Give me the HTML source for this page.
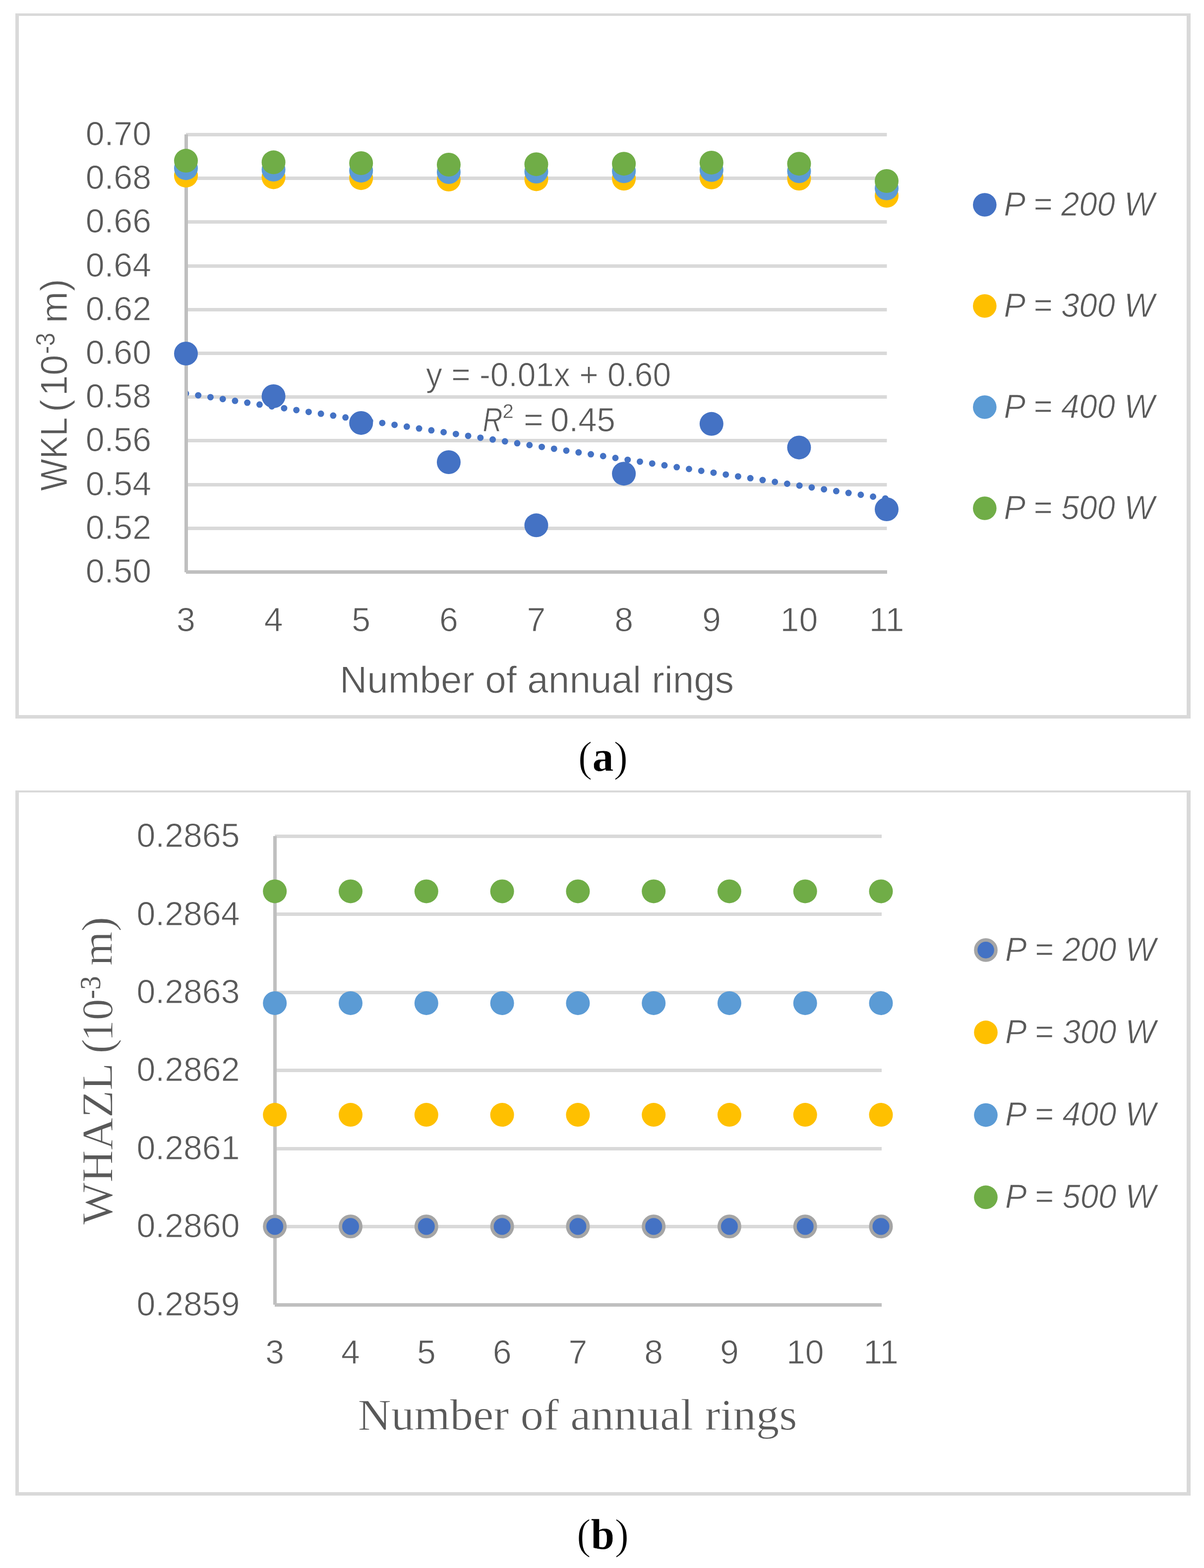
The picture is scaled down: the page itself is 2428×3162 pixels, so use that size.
<!DOCTYPE html>
<html><head><meta charset="utf-8"><title>Figure</title>
<style>
html,body{margin:0;padding:0;background:#fff;}
body{width:2428px;height:3162px;overflow:hidden;}
svg{display:block;}
.t{font-family:'Liberation Sans', Arial, sans-serif;font-size:68px;fill:#595959;stroke:#fff;stroke-width:1px;}
</style></head>
<body>
<svg width="2428" height="3162" viewBox="0 0 2428 3162">
<rect x="0" y="0" width="2428" height="3162" fill="#fff"/>
<rect x="31" y="27" width="2370" height="5" fill="#d9d9d9"/>
<rect x="31" y="1442" width="2370" height="7" fill="#d9d9d9"/>
<rect x="31" y="27" width="7" height="1422" fill="#d9d9d9"/>
<rect x="2393" y="27" width="8" height="1422" fill="#d9d9d9"/>
<rect x="31" y="1594" width="2370" height="4" fill="#d9d9d9"/>
<rect x="31" y="3009" width="2370" height="7" fill="#d9d9d9"/>
<rect x="31" y="1594" width="7" height="1422" fill="#d9d9d9"/>
<rect x="2393" y="1594" width="8" height="1422" fill="#d9d9d9"/>
<rect x="375" y="268" width="1413.5" height="7" fill="#d9d9d9"/>
<rect x="375" y="356" width="1413.5" height="7" fill="#d9d9d9"/>
<rect x="375" y="444" width="1413.5" height="7" fill="#d9d9d9"/>
<rect x="375" y="533" width="1413.5" height="7" fill="#d9d9d9"/>
<rect x="375" y="621" width="1413.5" height="7" fill="#d9d9d9"/>
<rect x="375" y="709" width="1413.5" height="7" fill="#d9d9d9"/>
<rect x="375" y="797" width="1413.5" height="7" fill="#d9d9d9"/>
<rect x="375" y="885" width="1413.5" height="7" fill="#d9d9d9"/>
<rect x="375" y="974" width="1413.5" height="7" fill="#d9d9d9"/>
<rect x="375" y="1062" width="1413.5" height="7" fill="#d9d9d9"/>
<rect x="372" y="271" width="7" height="883" fill="#bfbfbf"/>
<rect x="375" y="1150" width="1414" height="7" fill="#bfbfbf"/>
<text x="305" y="292.9" text-anchor="end" class="t">0.70</text>
<text x="305" y="381.1" text-anchor="end" class="t">0.68</text>
<text x="305" y="469.3" text-anchor="end" class="t">0.66</text>
<text x="305" y="557.5" text-anchor="end" class="t">0.64</text>
<text x="305" y="645.7" text-anchor="end" class="t">0.62</text>
<text x="305" y="733.9" text-anchor="end" class="t">0.60</text>
<text x="305" y="822.1" text-anchor="end" class="t">0.58</text>
<text x="305" y="910.3" text-anchor="end" class="t">0.56</text>
<text x="305" y="998.5" text-anchor="end" class="t">0.54</text>
<text x="305" y="1086.7" text-anchor="end" class="t">0.52</text>
<text x="305" y="1174.9" text-anchor="end" class="t">0.50</text>
<text x="375.0" y="1273.4" text-anchor="middle" class="t">3</text>
<text x="551.6" y="1273.4" text-anchor="middle" class="t">4</text>
<text x="728.2" y="1273.4" text-anchor="middle" class="t">5</text>
<text x="904.9" y="1273.4" text-anchor="middle" class="t">6</text>
<text x="1081.5" y="1273.4" text-anchor="middle" class="t">7</text>
<text x="1258.1" y="1273.4" text-anchor="middle" class="t">8</text>
<text x="1434.8" y="1273.4" text-anchor="middle" class="t">9</text>
<text x="1611.4" y="1273.4" text-anchor="middle" class="t">10</text>
<text x="1788.0" y="1273.4" text-anchor="middle" class="t">11</text>
<defs><clipPath id="pa"><rect x="378.8" y="200" width="1500" height="1000"/></clipPath></defs>
<line x1="375" y1="793.5" x2="1788" y2="1005.6" stroke="#4472c4" stroke-width="13" stroke-linecap="round" stroke-dasharray="0 25.02" clip-path="url(#pa)"/>
<circle cx="375.0" cy="713" r="24" fill="#4472c4"/>
<circle cx="551.6" cy="799" r="24" fill="#4472c4"/>
<circle cx="728.2" cy="852.9" r="24" fill="#4472c4"/>
<circle cx="904.9" cy="932" r="24" fill="#4472c4"/>
<circle cx="1081.5" cy="1059.3" r="24" fill="#4472c4"/>
<circle cx="1258.1" cy="955.2" r="24" fill="#4472c4"/>
<circle cx="1434.8" cy="854.8" r="24" fill="#4472c4"/>
<circle cx="1611.4" cy="902.4" r="24" fill="#4472c4"/>
<circle cx="1788.0" cy="1027" r="24" fill="#4472c4"/>
<circle cx="375.0" cy="354.2" r="24" fill="#ffc000"/>
<circle cx="551.6" cy="357.4" r="24" fill="#ffc000"/>
<circle cx="728.2" cy="359.2" r="24" fill="#ffc000"/>
<circle cx="904.9" cy="362" r="24" fill="#ffc000"/>
<circle cx="1081.5" cy="361.4" r="24" fill="#ffc000"/>
<circle cx="1258.1" cy="360.3" r="24" fill="#ffc000"/>
<circle cx="1434.8" cy="357.8" r="24" fill="#ffc000"/>
<circle cx="1611.4" cy="360.3" r="24" fill="#ffc000"/>
<circle cx="1788.0" cy="394.8" r="24" fill="#ffc000"/>
<circle cx="375.0" cy="339.2" r="24" fill="#5b9bd5"/>
<circle cx="551.6" cy="342" r="24" fill="#5b9bd5"/>
<circle cx="728.2" cy="344.2" r="24" fill="#5b9bd5"/>
<circle cx="904.9" cy="347" r="24" fill="#5b9bd5"/>
<circle cx="1081.5" cy="346" r="24" fill="#5b9bd5"/>
<circle cx="1258.1" cy="345.3" r="24" fill="#5b9bd5"/>
<circle cx="1434.8" cy="342.8" r="24" fill="#5b9bd5"/>
<circle cx="1611.4" cy="345.3" r="24" fill="#5b9bd5"/>
<circle cx="1788.0" cy="379.8" r="24" fill="#5b9bd5"/>
<circle cx="375.0" cy="324.1" r="24" fill="#70ad47"/>
<circle cx="551.6" cy="327.3" r="24" fill="#70ad47"/>
<circle cx="728.2" cy="329" r="24" fill="#70ad47"/>
<circle cx="904.9" cy="332" r="24" fill="#70ad47"/>
<circle cx="1081.5" cy="331.2" r="24" fill="#70ad47"/>
<circle cx="1258.1" cy="330.2" r="24" fill="#70ad47"/>
<circle cx="1434.8" cy="327.9" r="24" fill="#70ad47"/>
<circle cx="1611.4" cy="330.2" r="24" fill="#70ad47"/>
<circle cx="1788.0" cy="365" r="24" fill="#70ad47"/>
<text x="859" y="779.1" class="t" textLength="494" lengthAdjust="spacingAndGlyphs">y = -0.01x + 0.60</text>
<text x="973.6" y="870.3" class="t" font-style="italic" textLength="40" lengthAdjust="spacingAndGlyphs">R</text>
<text x="1013.6" y="843.4" class="t" style="font-size:40px;stroke-width:0.4px">2</text>
<text x="1056" y="870.3" class="t">=</text>
<text x="1110" y="870.3" class="t" textLength="131" lengthAdjust="spacingAndGlyphs">0.45</text>
<text x="1082.5" y="1396.8" text-anchor="middle" class="t" style="font-size:76.5px">Number of annual rings</text>
<g transform="translate(135,989) rotate(-90)">
<text x="-0.9" y="0" class="t" style="font-size:76.5px" textLength="148.4" lengthAdjust="spacingAndGlyphs">WKL</text>
<text x="158" y="0" class="t" style="font-size:76.5px">(</text>
<text x="190.6" y="0" class="t" style="font-size:76.5px" textLength="83" lengthAdjust="spacingAndGlyphs">10</text>
<text x="275.2" y="-24.7" class="t" style="font-size:53px;stroke-width:0.5px" textLength="42.8" lengthAdjust="spacingAndGlyphs">-3</text>
<text x="337.6" y="0" class="t" style="font-size:76.5px">m)</text>
</g>
<circle cx="1985.8" cy="413" r="23.8" fill="#4472c4"/>
<text x="2024.5" y="435" class="t" font-style="italic" textLength="304" lengthAdjust="spacingAndGlyphs">P = 200 W</text>
<circle cx="1985.8" cy="617" r="23.8" fill="#ffc000"/>
<text x="2024.5" y="639" class="t" font-style="italic" textLength="304" lengthAdjust="spacingAndGlyphs">P = 300 W</text>
<circle cx="1985.8" cy="821" r="23.8" fill="#5b9bd5"/>
<text x="2024.5" y="843" class="t" font-style="italic" textLength="304" lengthAdjust="spacingAndGlyphs">P = 400 W</text>
<circle cx="1985.8" cy="1025" r="23.8" fill="#70ad47"/>
<text x="2024.5" y="1047" class="t" font-style="italic" textLength="304" lengthAdjust="spacingAndGlyphs">P = 500 W</text>
<text x="1216" y="1555" text-anchor="middle" font-family="'Liberation Serif', 'Times New Roman', serif" font-size="86" fill="#000" stroke="#fff" stroke-width="1.2">(<tspan font-weight="bold" stroke-width="0.6">a</tspan>)</text>
<rect x="554.3" y="1683" width="1223.7" height="7" fill="#d9d9d9"/>
<rect x="554.3" y="1840" width="1223.7" height="7" fill="#d9d9d9"/>
<rect x="554.3" y="1998" width="1223.7" height="7" fill="#d9d9d9"/>
<rect x="554.3" y="2155" width="1223.7" height="7" fill="#d9d9d9"/>
<rect x="554.3" y="2313" width="1223.7" height="7" fill="#d9d9d9"/>
<rect x="554.3" y="2470" width="1223.7" height="7" fill="#d9d9d9"/>
<rect x="551" y="1686" width="7" height="945" fill="#bfbfbf"/>
<rect x="554" y="2628" width="1224" height="7" fill="#bfbfbf"/>
<text x="483.5" y="1708.0" text-anchor="end" class="t">0.2865</text>
<text x="483.5" y="1865.5" text-anchor="end" class="t">0.2864</text>
<text x="483.5" y="2022.9" text-anchor="end" class="t">0.2863</text>
<text x="483.5" y="2180.4" text-anchor="end" class="t">0.2862</text>
<text x="483.5" y="2337.9" text-anchor="end" class="t">0.2861</text>
<text x="483.5" y="2495.3" text-anchor="end" class="t">0.2860</text>
<text x="483.5" y="2652.8" text-anchor="end" class="t">0.2859</text>
<text x="554.2" y="2750" text-anchor="middle" class="t">3</text>
<text x="707.0" y="2750" text-anchor="middle" class="t">4</text>
<text x="859.8" y="2750" text-anchor="middle" class="t">5</text>
<text x="1012.6" y="2750" text-anchor="middle" class="t">6</text>
<text x="1165.4" y="2750" text-anchor="middle" class="t">7</text>
<text x="1318.2" y="2750" text-anchor="middle" class="t">8</text>
<text x="1470.9" y="2750" text-anchor="middle" class="t">9</text>
<text x="1623.7" y="2750" text-anchor="middle" class="t">10</text>
<text x="1776.5" y="2750" text-anchor="middle" class="t">11</text>
<circle cx="554.2" cy="1797.4" r="24" fill="#70ad47"/>
<circle cx="554.2" cy="2022.9" r="24" fill="#5b9bd5"/>
<circle cx="554.2" cy="2248.1" r="24" fill="#ffc000"/>
<circle cx="554.2" cy="2473.3" r="20.5" fill="#4472c4" stroke="#a5a5a5" stroke-width="7"/>
<circle cx="707.0" cy="1797.4" r="24" fill="#70ad47"/>
<circle cx="707.0" cy="2022.9" r="24" fill="#5b9bd5"/>
<circle cx="707.0" cy="2248.1" r="24" fill="#ffc000"/>
<circle cx="707.0" cy="2473.3" r="20.5" fill="#4472c4" stroke="#a5a5a5" stroke-width="7"/>
<circle cx="859.8" cy="1797.4" r="24" fill="#70ad47"/>
<circle cx="859.8" cy="2022.9" r="24" fill="#5b9bd5"/>
<circle cx="859.8" cy="2248.1" r="24" fill="#ffc000"/>
<circle cx="859.8" cy="2473.3" r="20.5" fill="#4472c4" stroke="#a5a5a5" stroke-width="7"/>
<circle cx="1012.6" cy="1797.4" r="24" fill="#70ad47"/>
<circle cx="1012.6" cy="2022.9" r="24" fill="#5b9bd5"/>
<circle cx="1012.6" cy="2248.1" r="24" fill="#ffc000"/>
<circle cx="1012.6" cy="2473.3" r="20.5" fill="#4472c4" stroke="#a5a5a5" stroke-width="7"/>
<circle cx="1165.4" cy="1797.4" r="24" fill="#70ad47"/>
<circle cx="1165.4" cy="2022.9" r="24" fill="#5b9bd5"/>
<circle cx="1165.4" cy="2248.1" r="24" fill="#ffc000"/>
<circle cx="1165.4" cy="2473.3" r="20.5" fill="#4472c4" stroke="#a5a5a5" stroke-width="7"/>
<circle cx="1318.2" cy="1797.4" r="24" fill="#70ad47"/>
<circle cx="1318.2" cy="2022.9" r="24" fill="#5b9bd5"/>
<circle cx="1318.2" cy="2248.1" r="24" fill="#ffc000"/>
<circle cx="1318.2" cy="2473.3" r="20.5" fill="#4472c4" stroke="#a5a5a5" stroke-width="7"/>
<circle cx="1470.9" cy="1797.4" r="24" fill="#70ad47"/>
<circle cx="1470.9" cy="2022.9" r="24" fill="#5b9bd5"/>
<circle cx="1470.9" cy="2248.1" r="24" fill="#ffc000"/>
<circle cx="1470.9" cy="2473.3" r="20.5" fill="#4472c4" stroke="#a5a5a5" stroke-width="7"/>
<circle cx="1623.7" cy="1797.4" r="24" fill="#70ad47"/>
<circle cx="1623.7" cy="2022.9" r="24" fill="#5b9bd5"/>
<circle cx="1623.7" cy="2248.1" r="24" fill="#ffc000"/>
<circle cx="1623.7" cy="2473.3" r="20.5" fill="#4472c4" stroke="#a5a5a5" stroke-width="7"/>
<circle cx="1776.5" cy="1797.4" r="24" fill="#70ad47"/>
<circle cx="1776.5" cy="2022.9" r="24" fill="#5b9bd5"/>
<circle cx="1776.5" cy="2248.1" r="24" fill="#ffc000"/>
<circle cx="1776.5" cy="2473.3" r="20.5" fill="#4472c4" stroke="#a5a5a5" stroke-width="7"/>
<text x="1164.5" y="2882.7" text-anchor="middle" font-family="'Liberation Serif', 'Times New Roman', serif" font-size="88.8" fill="#595959" stroke="#fff" stroke-width="1" textLength="886" lengthAdjust="spacingAndGlyphs">Number of annual rings</text>
<g transform="translate(225.7,2469.8) rotate(-90)">
<text x="0" y="0" font-family="'Liberation Serif', 'Times New Roman', serif" font-size="88.8" fill="#595959" stroke="#fff" stroke-width="1" textLength="326.3" lengthAdjust="spacingAndGlyphs">WHAZL</text>
<text x="345.3" y="0" font-family="'Liberation Serif', 'Times New Roman', serif" font-size="88.8" fill="#595959" stroke="#fff" stroke-width="1">(</text>
<text x="369.8" y="0" font-family="'Liberation Serif', 'Times New Roman', serif" font-size="88.8" fill="#595959" stroke="#fff" stroke-width="1" textLength="85.7" lengthAdjust="spacingAndGlyphs">10</text>
<text x="455.3" y="-23.9" font-family="'Liberation Serif', 'Times New Roman', serif" font-size="58.5" fill="#595959" textLength="46.2" lengthAdjust="spacingAndGlyphs">-3</text>
<text x="522.2" y="0" font-family="'Liberation Serif', 'Times New Roman', serif" font-size="88.8" fill="#595959" stroke="#fff" stroke-width="1">m)</text>
</g>
<circle cx="1988" cy="1915.9" r="20.3" fill="#4472c4" stroke="#a5a5a5" stroke-width="7"/>
<text x="2027" y="1937.6" class="t" font-style="italic" textLength="304" lengthAdjust="spacingAndGlyphs">P = 200 W</text>
<circle cx="1988" cy="2081.9" r="23.8" fill="#ffc000"/>
<text x="2027" y="2103.6" class="t" font-style="italic" textLength="304" lengthAdjust="spacingAndGlyphs">P = 300 W</text>
<circle cx="1988" cy="2248.6" r="23.8" fill="#5b9bd5"/>
<text x="2027" y="2270.3" class="t" font-style="italic" textLength="304" lengthAdjust="spacingAndGlyphs">P = 400 W</text>
<circle cx="1988" cy="2414.4" r="23.8" fill="#70ad47"/>
<text x="2027" y="2436.1" class="t" font-style="italic" textLength="304" lengthAdjust="spacingAndGlyphs">P = 500 W</text>
<text x="1215.5" y="3123" text-anchor="middle" font-family="'Liberation Serif', 'Times New Roman', serif" font-size="86" fill="#000" stroke="#fff" stroke-width="1.2">(<tspan font-weight="bold" stroke-width="0.6">b</tspan>)</text>
</svg>
</body></html>
